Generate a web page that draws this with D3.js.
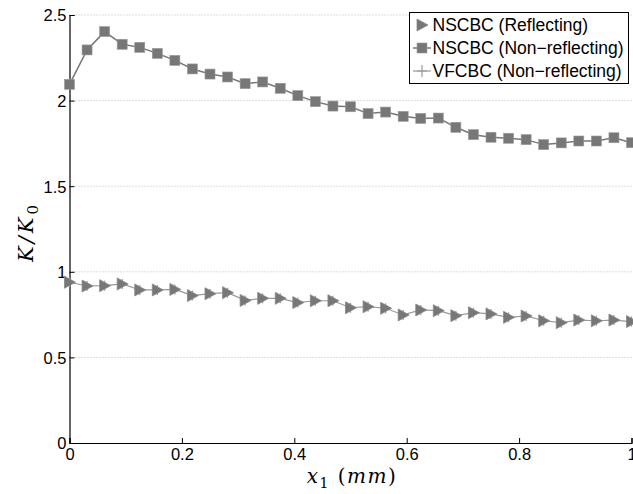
<!DOCTYPE html>
<html><head><meta charset="utf-8">
<script src="https://cdn.jsdelivr.net/npm/d3@7"></script>
<style>body{margin:0;background:#fff}svg{display:block}</style>
</head><body>
<script>
const nPts = 33;
const xValues = d3.range(nPts).map(i => i / 32);
const nonReflecting = [2.095,2.296,2.403,2.329,2.311,2.276,2.235,2.185,2.155,2.138,2.099,2.109,2.072,2.029,1.994,1.968,1.964,1.924,1.933,1.908,1.896,1.898,1.844,1.801,1.786,1.780,1.772,1.743,1.753,1.764,1.764,1.783,1.754];
const reflecting = [0.939,0.917,0.919,0.929,0.894,0.894,0.897,0.861,0.872,0.878,0.833,0.845,0.845,0.820,0.831,0.831,0.790,0.796,0.787,0.748,0.777,0.773,0.744,0.761,0.754,0.734,0.742,0.714,0.703,0.718,0.714,0.718,0.709];
const vfcbc = [0.939,0.917,0.919,0.929,0.894,0.894,0.897,0.861,0.872,0.878,0.833,0.845,0.845,0.820,0.831,0.831,0.790,0.796,0.787,0.748,0.777,0.773,0.744,0.761,0.754,0.734,0.742,0.714,0.703,0.718,0.714,0.718,0.709];
const yTicks = [0,0.5,1,1.5,2,2.5];
const xTicks = [0,0.2,0.4,0.6,0.8,1];
const legendLabels = ["NSCBC (Reflecting)","NSCBC (Non\u2212reflecting)","VFCBC (Non\u2212reflecting)"];

const W = 633, H = 494;
const svg = d3.select("body").append("svg").attr("width", W).attr("height", H);
const x = d3.scaleLinear().domain([0,1]).range([69.5, 631.5]);
const y = d3.scaleLinear().domain([0,2.5]).range([443, 15]);
const font = "'Liberation Sans', Arial, Helvetica, sans-serif";
const serif = "'DejaVu Serif', 'Liberation Serif', serif";

// grid
svg.append("g").selectAll("line").data(yTicks.filter(v => v > 0)).join("line")
  .attr("x1", x(0)).attr("x2", x(1)).attr("y1", d => y(d)).attr("y2", d => y(d))
  .attr("stroke", "#bbb").attr("stroke-width", 1).attr("stroke-dasharray", "1,2");

// axes
const yAxis = d3.axisLeft(y).tickValues(yTicks).tickSize(-5).tickPadding(3).tickFormat(d3.format("~g"));
const gy = svg.append("g").attr("transform", `translate(${x(0)},0)`).call(yAxis);
const xAxis = d3.axisBottom(x).tickValues(xTicks).tickSize(-5).tickPadding(5).tickFormat(d3.format("~g"));
const gx = svg.append("g").attr("transform", `translate(0,${y(0)})`).call(xAxis);
[gx, gy].forEach(g => {
  g.select(".domain").attr("stroke", "#000").attr("stroke-width", 1.2);
  g.selectAll(".tick line").attr("stroke", "#000");
  g.selectAll("text").attr("font-family", font).attr("font-size", 16.5).attr("fill", "#000");
});
gx.selectAll(".tick text").attr("dy", "0.71em");
gy.selectAll(".tick text").attr("dy", "0.36em");

// series
const grey = "#777";
const light = "#999";
const line = d3.line().x((d,i) => x(xValues[i])).y(d => y(d));

// VFCBC (plus + line)
svg.append("path").datum(vfcbc).attr("d", line).attr("fill","none").attr("stroke", light).attr("stroke-width", 1.2);
svg.append("g").selectAll("path").data(vfcbc).join("path")
  .attr("transform", (d,i) => `translate(${x(xValues[i])},${y(d)})`)
  .attr("d", "M-5,0H5M0,-5V5").attr("stroke", light).attr("stroke-width", 1.2).attr("fill", "none");

// Reflecting triangles (markers only)
const tri = "M-5,-6L6,0L-5,6Z";
svg.append("g").selectAll("path").data(reflecting).join("path")
  .attr("transform", (d,i) => `translate(${x(xValues[i])},${y(d)})`)
  .attr("d", tri).attr("fill", grey).attr("stroke", "#888").attr("stroke-width", 0.8);

// Non-reflecting squares + line
svg.append("path").datum(nonReflecting).attr("d", line).attr("fill","none").attr("stroke", grey).attr("stroke-width", 1.5);
svg.append("g").selectAll("rect").data(nonReflecting).join("rect")
  .attr("x", (d,i) => x(xValues[i]) - 5).attr("y", d => y(d) - 5)
  .attr("width", 10).attr("height", 10).attr("fill", grey).attr("stroke", "#999").attr("stroke-width", 0.6);

// axis labels
svg.append("text").attr("transform", "translate(33,232) rotate(-90)").attr("text-anchor","middle")
  .attr("font-family", serif).attr("font-size", 21).attr("font-style","italic").attr("letter-spacing", 3)
  .html('K/K<tspan font-style="normal" font-size="15" dy="5">0</tspan>');
svg.append("text").attr("x", 352).attr("y", 483).attr("text-anchor","middle")
  .attr("font-family", serif).attr("font-size", 20).attr("font-style","italic").attr("letter-spacing", 1.5)
  .html('x<tspan font-style="normal" font-size="14" dy="5">1</tspan><tspan dy="-5" font-style="normal"> (</tspan>mm<tspan font-style="normal">)</tspan>');

// legend
const lg = svg.append("g");
lg.append("rect").attr("x", 409.5).attr("y", 12.5).attr("width", 219).attr("height", 71)
  .attr("fill", "#fff").attr("stroke", "#000").attr("stroke-width", 1);
const rowsY = [25, 48, 71];
legendLabels.forEach((t, i) => {
  const cy = rowsY[i], cx = 422;
  if (i === 0) {
    lg.append("path").attr("transform", `translate(${cx},${cy})`).attr("d", tri).attr("fill", grey).attr("stroke","#888").attr("stroke-width",0.8);
  } else if (i === 1) {
    lg.append("line").attr("x1", cx-9).attr("x2", cx+9).attr("y1", cy).attr("y2", cy).attr("stroke", grey).attr("stroke-width", 1.5);
    lg.append("rect").attr("x", cx-5).attr("y", cy-5).attr("width",10).attr("height",10).attr("fill",grey).attr("stroke","#999").attr("stroke-width",0.6);
  } else {
    lg.append("line").attr("x1", cx-9).attr("x2", cx+9).attr("y1", cy).attr("y2", cy).attr("stroke", light).attr("stroke-width", 1.2);
    lg.append("path").attr("transform", `translate(${cx},${cy})`).attr("d", "M-5,0H5M0,-6V6").attr("stroke", light).attr("stroke-width",1.2);
  }
  lg.append("text").attr("x", 432.5).attr("y", cy).attr("dy","0.36em")
    .attr("font-family", font).attr("font-size", 17.5).attr("fill","#000").text(t);
});
</script>
</body></html>
